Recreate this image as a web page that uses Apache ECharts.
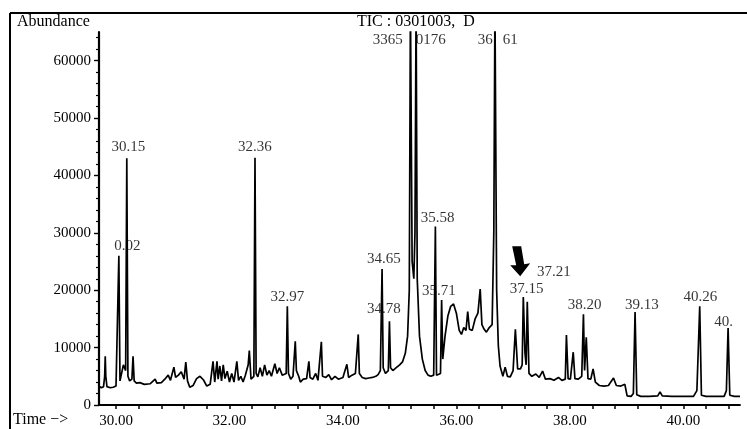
<!DOCTYPE html>
<html>
<head>
<meta charset="utf-8">
<script src="https://cdn.jsdelivr.net/npm/echarts@6/dist/echarts.min.js"></script>
<style>
html,body{margin:0;padding:0;background:#fff;}
#chart{width:747px;height:429px;}
</style>
</head>
<body>
<div id="chart"></div>
<script>
// Retention time (min) of the TIC trace
var times = [29.70,29.74,29.78,29.80,29.81,29.82,29.84,29.90,29.95,30.00,30.03,30.05,30.07,30.10,30.13,30.17,30.19,30.21,30.24,30.28,30.30,30.32,30.36,30.42,30.50,30.60,30.69,30.72,30.80,30.86,30.92,30.96,31.02,31.05,31.10,31.15,31.20,31.23,31.26,31.30,31.36,31.42,31.48,31.54,31.60,31.66,31.71,31.74,31.78,31.80,31.83,31.86,31.89,31.92,31.96,32.00,32.04,32.08,32.13,32.16,32.20,32.24,32.28,32.33,32.35,32.38,32.43,32.45,32.47,32.50,32.54,32.58,32.62,32.66,32.70,32.74,32.80,32.84,32.88,32.93,33.00,33.02,33.04,33.08,33.12,33.16,33.18,33.22,33.25,33.30,33.36,33.40,33.42,33.47,33.52,33.56,33.62,33.64,33.70,33.75,33.80,33.86,33.92,34.00,34.07,34.10,34.16,34.22,34.27,34.29,34.34,34.40,34.46,34.52,34.58,34.62,34.66,34.69,34.71,34.75,34.80,34.82,34.84,34.88,34.94,35.00,35.05,35.10,35.14,35.17,35.19,35.22,35.25,35.27,35.29,35.31,35.35,35.40,35.45,35.50,35.55,35.60,35.63,35.65,35.68,35.72,35.74,35.76,35.80,35.85,35.90,35.95,36.00,36.05,36.09,36.13,36.17,36.20,36.23,36.28,36.33,36.38,36.42,36.45,36.49,36.53,36.58,36.63,36.66,36.68,36.71,36.74,36.77,36.82,36.86,36.90,36.95,37.00,37.04,37.08,37.13,37.16,37.18,37.21,37.23,37.25,37.28,37.33,37.40,37.46,37.52,37.57,37.65,37.72,37.80,37.86,37.92,37.94,37.97,38.01,38.06,38.09,38.15,38.21,38.24,38.26,38.29,38.32,38.37,38.41,38.45,38.52,38.60,38.68,38.77,38.82,38.90,38.97,38.99,39.01,39.08,39.12,39.15,39.18,39.25,39.40,39.55,39.59,39.63,39.80,40.00,40.18,40.24,40.29,40.32,40.40,40.60,40.72,40.76,40.79,40.82,40.90,41.00];
// Abundance of the TIC trace
var abundance = [3300,3000,3200,5000,8500,5000,3200,3000,3100,3300,3600,26000,4200,4000,7000,6000,43000,5000,4200,4500,8500,4200,3800,3900,3600,3700,4500,3800,3900,4500,5200,4300,6600,4800,5200,5800,4500,7500,4200,3100,3400,4600,5000,4400,3300,3600,7600,4000,7600,4500,6800,4200,7000,4600,5900,4000,5500,4000,7600,4300,5000,4000,5200,7000,9500,4500,5000,43100,5500,4900,6500,5000,7000,5200,6000,5000,7200,5500,6500,5200,5500,17200,5500,4500,5000,11100,6000,5000,4000,4500,4600,7600,4800,4500,5500,4300,11000,5000,4800,5300,4400,5000,4500,4800,7100,4800,5200,5500,12300,5500,4800,4600,4700,4800,5000,5300,6000,23700,6500,5500,6000,14600,6500,6000,6500,7000,7500,9000,12000,20000,70000,25000,22000,30000,70000,22000,12000,8000,6000,5200,5000,5200,31100,5200,4900,5500,18300,8000,12000,15500,17200,17600,16000,13000,12300,13500,13000,16300,13200,13000,15000,16000,20200,14000,13200,12700,13500,14000,30000,70000,20000,10300,6800,5000,6600,5000,4900,6000,13200,6300,6300,7000,18800,9000,7000,18000,5500,5000,5400,4800,5900,4500,4600,4300,4800,4300,4500,12200,4600,4500,9200,4600,4500,5000,15800,6000,11800,4600,4500,6300,4000,3400,3300,3400,4700,3400,3300,3600,3300,1600,1500,2000,16200,1800,1500,1500,1600,2300,1600,1500,1500,1500,2500,17200,1700,1500,1500,1500,2500,13400,1700,1500,1500];
// Peak annotations (text, label centre time, label centre abundance)
var peakLabels = ["30.15","0.02","32.36","32.97","34.65","34.78","3365","0176","36","61","35.58","35.71","37.15","37.21","38.20","39.13","40.26","40."];
var peakLabelTimes = [30.22,30.20,32.45,33.02,34.72,34.72,34.79,35.55,36.51,36.95,35.67,35.69,37.24,37.72,38.26,39.27,40.30,40.71];
var peakLabelAbund = [44900,27650,44900,18780,25390,16700,63650,63650,63650,63650,32520,19830,20170,23130,17390,17390,18780,14430];
// Axis ticks
var xTickValues = [30.0,30.4,30.8,31.2,31.6,32.0,32.4,32.8,33.2,33.6,34.0,34.4,34.8,35.2,35.6,36.0,36.4,36.8,37.2,37.6,38.0,38.4,38.8,39.2,39.6,40.0,40.4,40.8];
var xLabelValues = [30,32,34,36,38,40];
var yLabelValues = [0,10000,20000,30000,40000,50000,60000];

var FONT = "'Liberation Serif','DejaVu Serif',serif";
var trace = times.map(function(t,i){return [t, abundance[i]];});
var labelData = peakLabels.map(function(s,i){return {name:s, value:[peakLabelTimes[i], peakLabelAbund[i]]};});

var chart = echarts.init(document.getElementById('chart'));
chart.setOption({
  backgroundColor:'#fff',
  animation:false,
  grid:{left:99,right:7,top:32,bottom:23,containLabel:false},
  xAxis:{
    type:'value',min:29.70,max:41.0,
    axisLine:{show:true,lineStyle:{color:'#000',width:1.8}},
    axisTick:{show:true,length:4,lineStyle:{color:'#000',width:1.5},customValues:xTickValues},
    axisLabel:{color:'#000',fontFamily:FONT,fontSize:15,margin:9,customValues:xLabelValues,
      formatter:function(v){return v.toFixed(2);}},
    splitLine:{show:false}
  },
  yAxis:{
    type:'value',min:0,max:65000,interval:10000,
    axisLine:{show:true,lineStyle:{color:'#000',width:2.2}},
    axisTick:{show:true,length:5,lineStyle:{color:'#000',width:1.4},customValues:yLabelValues},
    minorTick:{show:true,splitNumber:5,length:3,lineStyle:{color:'#000',width:1.2}},
    axisLabel:{color:'#000',fontFamily:FONT,fontSize:15,margin:8,customValues:yLabelValues,
      formatter:function(v){return String(v);}},
    splitLine:{show:false}
  },
  series:[
    {type:'line',data:trace,showSymbol:false,symbol:'none',clip:true,
     lineStyle:{color:'#000',width:1.7},z:2},
    {type:'scatter',data:labelData,symbolSize:0,z:3,silent:true,clip:false,
     label:{show:true,position:'inside',formatter:'{b}',color:'#000',fontFamily:FONT,fontSize:15}}
  ]
});

// Annotations: frame, titles, arrow
var tip = chart.convertToPixel({gridIndex:0},[37.125,22430]);
chart.setOption({
  graphic:[
    {type:'line',shape:{x1:10,y1:13,x2:747,y2:13},style:{stroke:'#000',lineWidth:2}},
    {type:'line',shape:{x1:10,y1:13,x2:10,y2:429},style:{stroke:'#000',lineWidth:2}},
    {type:'text',left:17,top:14,style:{text:'Abundance',font:"16px "+FONT,fill:'#000'}},
    {type:'text',left:357,top:14,style:{text:'TIC : 0301003,  D',font:"16px "+FONT,fill:'#000'}},
    {type:'text',left:13,top:412,style:{text:'Time \u2212>',font:"16px "+FONT,fill:'#000'}},
    {type:'polygon',shape:{points:[
      [tip[0]-8,tip[1]-30],[tip[0]+1,tip[1]-30],[tip[0]+4,tip[1]-12],[tip[0]+10,tip[1]-13],
      [tip[0],tip[1]],[tip[0]-10,tip[1]-11],[tip[0]-4,tip[1]-11]
    ]},style:{fill:'#000'}}
  ]
});
</script>
</body>
</html>
